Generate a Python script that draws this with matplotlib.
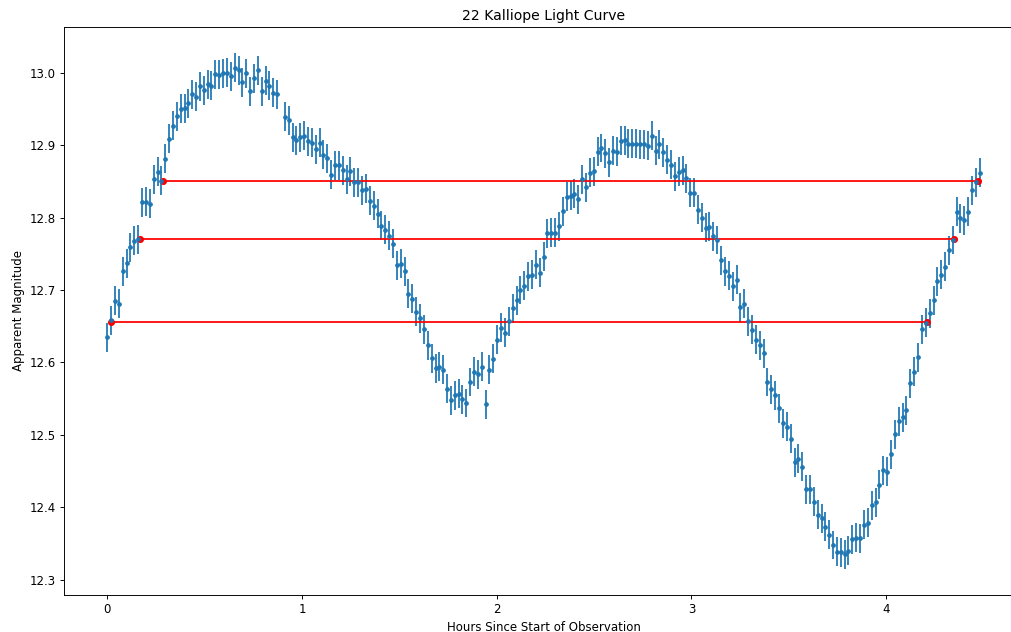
import matplotlib
matplotlib.use("Agg")
import matplotlib.pyplot as plt

hours = [
    0.000, 0.020, 0.040, 0.059, 0.079, 0.099, 0.119, 0.139, 0.159, 0.178,
    0.198, 0.218, 0.238, 0.258, 0.278, 0.297, 0.317, 0.337, 0.357, 0.377,
    0.397, 0.416, 0.436, 0.456, 0.476, 0.496, 0.516, 0.535, 0.555, 0.575,
    0.595, 0.615, 0.635, 0.654, 0.674, 0.694, 0.714, 0.734, 0.754, 0.773,
    0.793, 0.813, 0.833, 0.853, 0.873,
    0.912, 0.932, 0.952, 0.971, 0.991, 1.011, 1.031, 1.051, 1.071, 1.091,
    1.110, 1.130, 1.150, 1.170, 1.190, 1.210, 1.229, 1.249, 1.269, 1.289,
    1.309, 1.329, 1.348, 1.368, 1.388, 1.408, 1.428, 1.448, 1.467, 1.487,
    1.507, 1.527, 1.547, 1.567, 1.586, 1.606, 1.626, 1.646, 1.666, 1.686,
    1.705, 1.725, 1.745, 1.765, 1.785, 1.805, 1.824, 1.844, 1.864, 1.884,
    1.904, 1.924, 1.943, 1.963, 1.983, 2.003, 2.023, 2.042, 2.062, 2.082,
    2.102, 2.122, 2.142, 2.161, 2.181, 2.201, 2.221, 2.241, 2.261, 2.280,
    2.300, 2.320, 2.340, 2.360, 2.380, 2.399, 2.419, 2.439, 2.459, 2.479,
    2.499, 2.518, 2.538, 2.558, 2.578, 2.598, 2.618, 2.637, 2.657, 2.677,
    2.697, 2.717, 2.737, 2.756, 2.776, 2.796, 2.816, 2.836, 2.856, 2.875,
    2.895, 2.915, 2.935, 2.955, 2.975, 2.994, 3.014, 3.034, 3.054, 3.074,
    3.093, 3.113, 3.133, 3.153, 3.173, 3.193, 3.212, 3.232, 3.252, 3.272,
    3.292, 3.312, 3.331, 3.351, 3.371, 3.391, 3.411, 3.431, 3.450, 3.470,
    3.490, 3.510, 3.530, 3.550, 3.569, 3.589, 3.609, 3.629, 3.649, 3.669,
    3.688, 3.708, 3.728, 3.748, 3.768, 3.788, 3.807, 3.827, 3.847, 3.867,
    3.887, 3.907, 3.926, 3.946, 3.966, 3.986, 4.006, 4.025, 4.045, 4.065,
    4.085, 4.105, 4.125, 4.144, 4.164, 4.184, 4.204, 4.224, 4.244, 4.263,
    4.283, 4.303, 4.323, 4.343, 4.363, 4.382, 4.402, 4.422, 4.442, 4.462,
    4.482,
]

magnitude = [
    12.635, 12.658, 12.685, 12.681, 12.726, 12.737, 12.759, 12.768, 12.770, 12.821,
    12.822, 12.819, 12.853, 12.863, 12.851, 12.881, 12.909, 12.927, 12.940, 12.950,
    12.951, 12.958, 12.970, 12.967, 12.981, 12.976, 12.984, 12.982, 12.998, 12.997,
    12.999, 13.000, 12.995, 13.007, 13.003, 12.987, 12.999, 12.974, 12.992, 13.003,
    12.974, 12.989, 12.982, 12.972, 12.970,
    12.939, 12.934, 12.911, 12.907, 12.911, 12.913, 12.905, 12.903, 12.894, 12.903,
    12.887, 12.882, 12.859, 12.872, 12.872, 12.865, 12.853, 12.864, 12.849, 12.849,
    12.838, 12.840, 12.823, 12.816, 12.805, 12.789, 12.783, 12.775, 12.764, 12.734,
    12.736, 12.726, 12.695, 12.688, 12.670, 12.661, 12.646, 12.624, 12.606, 12.592,
    12.594, 12.590, 12.564, 12.548, 12.555, 12.557, 12.549, 12.544, 12.573, 12.587,
    12.584, 12.594, 12.542, 12.590, 12.605, 12.631, 12.648, 12.641, 12.657, 12.675,
    12.686, 12.700, 12.706, 12.719, 12.721, 12.735, 12.724, 12.746, 12.778, 12.779,
    12.779, 12.788, 12.809, 12.829, 12.830, 12.833, 12.825, 12.853, 12.842, 12.862,
    12.864, 12.891, 12.896, 12.889, 12.876, 12.892, 12.891, 12.906, 12.907, 12.902,
    12.902, 12.902, 12.901, 12.901, 12.899, 12.913, 12.892, 12.901, 12.890, 12.880,
    12.873, 12.857, 12.863, 12.865, 12.854, 12.834, 12.834, 12.811, 12.800, 12.786,
    12.787, 12.774, 12.769, 12.741, 12.726, 12.720, 12.705, 12.714, 12.676, 12.681,
    12.657, 12.645, 12.631, 12.624, 12.613, 12.573, 12.563, 12.555, 12.537, 12.516,
    12.511, 12.495, 12.462, 12.467, 12.456, 12.425, 12.425, 12.408, 12.390, 12.385,
    12.373, 12.362, 12.348, 12.339, 12.338, 12.335, 12.340, 12.356, 12.358, 12.357,
    12.376, 12.379, 12.403, 12.407, 12.431, 12.451, 12.449, 12.473, 12.501, 12.519,
    12.524, 12.534, 12.571, 12.587, 12.607, 12.646, 12.655, 12.668, 12.686, 12.712,
    12.721, 12.732, 12.755, 12.769, 12.808, 12.799, 12.796, 12.808, 12.838, 12.849,
    12.862,
]

mag_error = 0.02

# Horizontal reference lines: magnitude level, start hour, end hour
line_levels = [12.656, 12.770, 12.850]
line_start = [0.019, 0.166, 0.286]
line_end = [4.209, 4.349, 4.472]

W, H, DPI = 1011, 632, 84.25
fig = plt.figure(figsize=(W / DPI, H / DPI), dpi=DPI)
left_px, right_px, top_px, bottom_px = 63.7, 1023.5, 27.3, 594.7
ax = fig.add_axes([left_px / W, 1 - bottom_px / H,
                   (right_px - left_px) / W, (bottom_px - top_px) / H])

ax.errorbar(hours, magnitude, yerr=mag_error, fmt='.', color='#1f77b4')

for lvl, x0, x1 in zip(line_levels, line_start, line_end):
    ax.plot([x0, x1], [lvl, lvl], 'o-', color='red', markersize=5, linewidth=1.5)

ax.set_title("22 Kalliope Light Curve")
ax.set_xlabel("Hours Since Start of Observation")
ax.set_ylabel("Apparent Magnitude")

fig.savefig("out.png", dpi=DPI)
